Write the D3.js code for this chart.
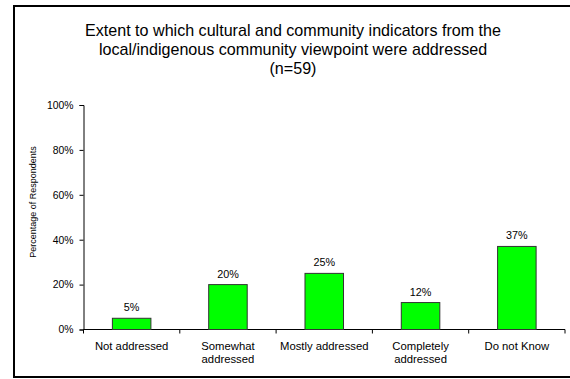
<!DOCTYPE html>
<html>
<head>
<meta charset="utf-8">
<script src="https://cdn.jsdelivr.net/npm/d3@7"></script>
<style>
  html, body { margin: 0; padding: 0; background: #fff; }
  svg { display: block; font-family: "Liberation Sans", Arial, sans-serif; }
</style>
</head>
<body>
<svg id="chart" width="570" height="379"></svg>
<script>
// Survey responses, percentage of respondents (n=59)
const categories = ["Not addressed", "Somewhat addressed", "Mostly addressed", "Completely addressed", "Do not Know"];
const categoryLines = [["Not addressed"], ["Somewhat", "addressed"], ["Mostly addressed"], ["Completely", "addressed"], ["Do not Know"]];
const values = [5, 20, 25, 12, 37];
const yTicks = [0, 20, 40, 60, 80, 100];
const titleLines = [
  "Extent to which cultural and community indicators from the",
  "local/indigenous community viewpoint were addressed",
  "(n=59)"
];
const yAxisTitle = "Percentage of Respondents";

const svg = d3.select("#chart");

// outer frame
svg.append("rect")
  .attr("x", 14).attr("y", 6)
  .attr("width", 570).attr("height", 371)
  .attr("fill", "none").attr("stroke", "#000").attr("stroke-width", 2);

// title
svg.append("g").selectAll("text")
  .data(titleLines)
  .join("text")
  .attr("x", 293)
  .attr("y", (d, i) => 36.3 + i * 18.9)
  .attr("text-anchor", "middle")
  .attr("font-size", 16.1)
  .attr("fill", "#000")
  .text(d => d);

const plot = { left: 83.5, right: 565, top: 105, bottom: 329.5 };

const x = d3.scaleBand()
  .domain(categories)
  .range([plot.left, plot.right])
  .paddingInner(0.6)
  .paddingOuter(0.3);

const y = d3.scaleLinear()
  .domain([0, 100])
  .range([plot.bottom, plot.top]);

// y axis
const yAxis = svg.append("g")
  .attr("transform", `translate(${plot.left},0)`)
  .call(d3.axisLeft(y).tickValues(yTicks).tickFormat(d => d + "%").tickSize(4).tickPadding(6));
yAxis.selectAll("text").attr("font-size", 10.4).attr("fill", "#000").attr("font-family", "Liberation Sans, Arial, sans-serif");
yAxis.selectAll("line, path").attr("stroke", "#000");

// x axis line with ticks on category boundaries
const bounds = d3.range(categories.length + 1).map(i => plot.left + i * (plot.right - plot.left) / categories.length);
svg.append("line")
  .attr("x1", plot.left).attr("x2", plot.right)
  .attr("y1", plot.bottom).attr("y2", plot.bottom)
  .attr("stroke", "#000");
svg.append("g").selectAll("line")
  .data(bounds)
  .join("line")
  .attr("x1", d => d).attr("x2", d => d)
  .attr("y1", plot.bottom).attr("y2", plot.bottom + 4)
  .attr("stroke", "#000");

// bars
svg.append("g").selectAll("rect")
  .data(values)
  .join("rect")
  .attr("x", (d, i) => x(categories[i]))
  .attr("y", d => y(d))
  .attr("width", x.bandwidth())
  .attr("height", d => y(0) - y(d))
  .attr("fill", "#00ff00")
  .attr("stroke", "#333")
  .attr("stroke-width", 1);

// value labels
svg.append("g").selectAll("text")
  .data(values)
  .join("text")
  .attr("x", (d, i) => x(categories[i]) + x.bandwidth() / 2)
  .attr("y", d => y(d) - 7)
  .attr("text-anchor", "middle")
  .attr("font-size", 10.8)
  .attr("fill", "#000")
  .text(d => d + "%");

// category labels
const catG = svg.append("g").selectAll("text")
  .data(categories)
  .join("text")
  .attr("text-anchor", "middle")
  .attr("font-size", 11.3)
  .attr("fill", "#000");
catG.each(function(d, i) {
  const cx = x(d) + x.bandwidth() / 2;
  d3.select(this).selectAll("tspan")
    .data(categoryLines[i])
    .join("tspan")
    .attr("x", cx)
    .attr("y", (t, j) => 349.5 + j * 13.4)
    .text(t => t);
});

// y axis title
svg.append("text")
  .attr("transform", "translate(36,202) rotate(-90)")
  .attr("text-anchor", "middle")
  .attr("font-size", 9)
  .attr("fill", "#000")
  .text(yAxisTitle);
</script>
</body>
</html>
